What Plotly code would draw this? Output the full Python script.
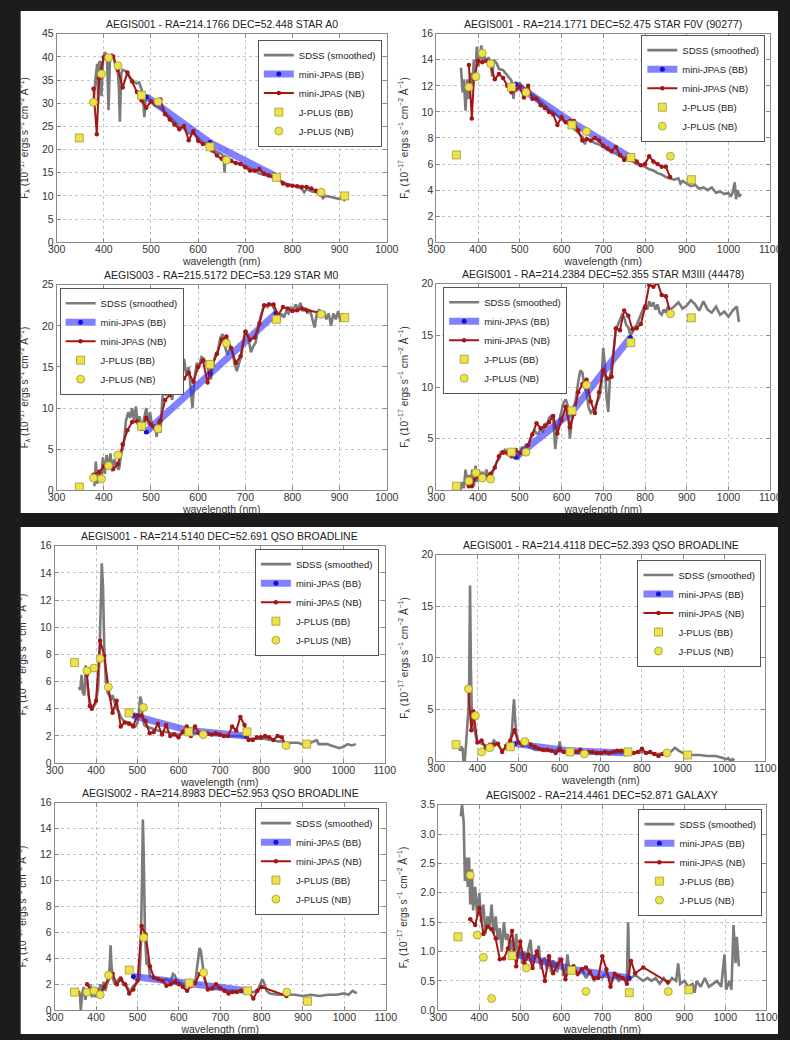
import plotly.graph_objects as go

# ---------------------------------------------------------------- data
TITLES = [
    "AEGIS001 - RA=214.1766 DEC=52.448 STAR A0",
    "AEGIS001 - RA=214.1771 DEC=52.475 STAR F0V (90277)",
    "AEGIS003 - RA=215.5172 DEC=53.129 STAR M0",
    "AEGIS001 - RA=214.2384 DEC=52.355 STAR M3III (44478)",
    "AEGIS001 - RA=214.5140 DEC=52.691 QSO BROADLINE",
    "AEGIS001 - RA=214.4118 DEC=52.393 QSO BROADLINE",
    "AEGIS002 - RA=214.8983 DEC=52.953 QSO BROADLINE",
    "AEGIS002 - RA=214.4461 DEC=52.871 GALAXY",
]
X_MAX = [1000, 1100, 1000, 1100, 1100, 1100, 1100, 1100]
Y_MAX = [45, 16, 25, 20, 16, 20, 16, 3.5]
Y_DTICK = [5, 2, 5, 5, 2, 5, 2, 0.5]

JPLUS_BB_WL = [348, 480, 625, 766, 911]
JPLUS_NB_WL = [378, 395, 410, 430, 515, 660, 861]
MINI_BB_WL = [490, 625, 765]

# ---- panel 1
P1_SDSS_WL = [378, 380, 383, 386, 388, 390, 393, 395, 398, 402, 405, 407, 410, 413, 417, 420, 425, 430, 432, 434,
              437, 440, 445, 450, 455, 460, 465, 470, 475, 480, 483, 486, 489, 495, 500, 510, 520, 530, 540, 550,
              560, 570, 580, 590, 600, 610, 620, 630, 640, 650, 654, 656, 658, 662, 670, 680, 690, 700, 710, 720,
              730, 740, 750, 760, 770, 780, 790, 800, 810, 820, 825, 830, 840, 850, 860, 865, 870, 880, 890, 900,
              905, 910, 915]
P1_SDSS_FLUX = [30.0, 33.0, 36.0, 38.5, 30.0, 38.8, 39.0, 31.5, 39.0, 41.0, 40.5, 39.0, 28.5, 40.0, 40.5, 40.3, 38.0, 36.5, 33.0, 26.0,
                36.5, 37.2, 37.0, 36.5, 35.5, 35.0, 34.5, 34.3, 34.5, 33.0, 31.0, 27.0, 31.5, 31.0, 30.5, 29.5, 29.0, 28.0, 27.0, 26.0,
                25.0, 24.5, 23.5, 23.5, 22.5, 21.5, 21.0, 20.0, 19.5, 19.0, 18.5, 15.0, 18.5, 18.3, 17.5, 17.0, 16.8, 16.5, 16.0, 15.5,
                14.8, 14.5, 14.3, 14.0, 13.5, 13.0, 12.5, 12.3, 12.0, 11.5, 10.8, 11.5, 11.0, 10.8, 10.3, 9.5, 10.0, 9.8, 9.5, 9.3,
                9.6, 9.1, 9.8]
P1_NB_WL = [378, 385, 390, 400, 410, 420, 430, 440, 450, 460, 470, 480, 490, 500, 510, 520, 530, 540, 550, 560,
            570, 580, 590, 600, 610, 620, 630, 640, 650, 660, 670, 680, 690, 700, 710, 720, 730, 740, 750, 760,
            770, 780, 790, 800, 810, 820, 830, 840, 850, 860]
P1_NB_FLUX = [33.1, 23.3, 35.4, 39.9, 39.5, 40.0, 37.2, 33.4, 36.6, 34.7, 32.4, 30.6, 29.0, 30.4, 29.7, 30.8, 27.6, 26.5, 25.4, 24.4,
              25.1, 22.0, 24.0, 21.9, 21.2, 21.2, 19.8, 18.7, 18.0, 17.3, 17.6, 17.1, 16.9, 16.2, 15.5, 15.4, 15.8, 14.8, 14.4, 14.1,
              13.7, 12.7, 12.3, 12.2, 12.1, 11.9, 11.9, 11.6, 11.1, 10.3]
P1_MBB_FLUX = [31.4, 21.5, 14.2]
P1_JBB_FLUX = [22.5, 31.7, 20.6, 14.0, 10.0]
P1_JNB_FLUX = [30.2, 36.3, 39.8, 38.1, 30.3, 17.7, 10.8]

# ---- panel 2
P2_SDSS_WL = [359, 363, 366, 370, 374, 378, 382, 386, 390, 394, 397, 401, 405, 408, 411, 415, 420, 425, 430, 434,
              438, 445, 450, 460, 470, 480, 485, 489, 495, 500, 510, 520, 530, 540, 550, 560, 570, 580, 590, 600,
              610, 620, 630, 640, 650, 656, 660, 670, 680, 690, 700, 710, 720, 730, 740, 750, 760, 770, 780, 790,
              800, 810, 820, 830, 840, 850, 860, 870, 880, 885, 890, 900, 910, 920, 930, 940, 950, 960, 970, 980,
              990, 1000, 1005, 1010, 1015, 1018, 1022, 1026, 1030]
P2_SDSS_FLUX = [13.4, 11.5, 12.5, 10.1, 12.5, 11.0, 13.0, 12.0, 14.0, 13.0, 15.0, 13.5, 14.5, 15.1, 13.8, 14.3, 13.8, 14.2, 13.8, 12.7,
                14.0, 13.7, 13.3, 13.2, 12.8, 12.4, 11.0, 12.3, 12.0, 12.2, 11.8, 11.6, 11.3, 11.1, 10.8, 10.5, 10.2, 10.0, 9.7, 9.4,
                9.2, 9.0, 8.7, 8.4, 8.1, 7.5, 8.0, 7.8, 7.6, 7.5, 7.3, 7.1, 6.9, 6.8, 6.6, 6.5, 6.3, 6.2, 6.0, 5.9,
                5.8, 5.6, 5.5, 5.3, 5.2, 5.0, 4.9, 4.8, 4.9, 4.5, 4.7, 4.5, 4.3, 4.4, 4.1, 4.2, 4.0, 4.2, 3.8, 3.9,
                3.7, 3.8, 3.5, 3.8, 4.6, 3.3, 4.0, 3.5, 3.7]
P2_NB_WL = [378, 385, 390, 400, 410, 420, 430, 440, 450, 460, 470, 480, 490, 500, 510, 520, 530, 540, 550, 560,
            570, 580, 590, 600, 610, 620, 630, 640, 650, 660, 670, 680, 690, 700, 710, 720, 730, 740, 750, 760,
            770, 780, 790, 800, 810, 820, 830, 840, 850, 860]
P2_NB_FLUX = [13.6, 9.5, 12.5, 13.9, 13.8, 13.9, 13.6, 12.5, 12.9, 12.6, 12.0, 11.5, 11.7, 11.9, 11.1, 12.0, 11.0, 11.0, 10.5, 10.3,
              10.0, 9.8, 9.0, 9.6, 9.2, 9.3, 9.3, 8.6, 7.8, 7.9, 7.8, 8.0, 7.8, 7.4, 7.2, 7.0, 7.3, 6.7, 6.3, 6.7,
              6.5, 6.2, 5.9, 6.0, 6.6, 6.2, 6.0, 5.8, 5.8, 5.0]
P2_MBB_FLUX = [12.1, 9.2, 6.5]
P2_JBB_FLUX = [6.7, 11.9, 9.0, 6.5, 4.8]
P2_JNB_FLUX = [11.9, 12.7, 14.5, 13.7, 11.5, 8.5, 6.6]

# ---- panel 3
P3_SDSS_WL = [380, 383, 386, 390, 394, 398, 402, 406, 410, 414, 418, 422, 427, 432, 437, 442, 447, 452, 456, 460,
              464, 468, 472, 476, 480, 485, 490, 494, 498, 503, 508, 512, 516, 520, 524, 528, 532, 536, 540, 545,
              550, 555, 560, 565, 570, 575, 580, 584, 588, 592, 597, 602, 607, 612, 617, 622, 627, 632, 637, 642,
              647, 652, 657, 662, 667, 672, 677, 682, 687, 692, 697, 702, 707, 712, 717, 722, 727, 732, 737, 742,
              747, 752, 757, 762, 767, 772, 777, 782, 787, 792, 797, 802, 807, 812, 817, 822, 827, 832, 837, 842,
              847, 852, 857, 862, 867, 872, 877, 882, 887, 892, 897, 902, 907, 912]
P3_SDSS_FLUX = [0.5, 3.5, 0.8, 2.5, 1.0, 4.0, 2.0, 4.3, 2.5, 4.5, 2.3, 3.8, 3.0, 2.5, 4.5, 5.5, 8.5, 9.5, 8.8, 10.0,
                8.5, 10.2, 8.0, 9.0, 7.3, 8.5, 10.0, 8.0, 9.5, 7.5, 8.0, 6.5, 8.5, 7.0, 11.0, 13.0, 11.5, 13.0, 12.0, 11.0,
                13.5, 12.5, 14.0, 13.0, 16.0, 14.0, 15.0, 12.5, 10.0, 13.5, 15.5, 15.0, 16.2, 16.0, 15.5, 14.5, 13.5, 15.5, 16.5, 17.0,
                18.5, 19.0, 17.5, 16.5, 17.2, 17.0, 15.5, 14.5, 15.5, 16.5, 18.5, 19.5, 18.5, 16.8, 17.5, 18.0, 19.5, 21.0, 22.0, 22.5,
                22.3, 22.7, 22.5, 22.0, 21.0, 20.8, 21.5, 21.0, 21.8, 21.5, 22.2, 22.0, 22.6, 22.0, 22.8, 21.8, 22.2, 21.5, 22.0, 21.0,
                19.8, 21.5, 22.0, 21.0, 21.8, 20.8, 21.5, 20.0, 21.5, 20.8, 21.8, 20.5, 21.5, 20.8]
P3_NB_WL = [378, 390, 400, 410, 420, 430, 440, 450, 460, 470, 480, 490, 500, 510, 520, 530, 540, 550, 560, 570,
            580, 590, 600, 610, 620, 630, 640, 650, 660, 670, 680, 690, 700, 710, 720, 730, 740, 750, 760, 770,
            780, 790, 800, 810, 820, 830, 860]
P3_NB_FLUX = [1.9, 2.2, 2.9, 3.0, 2.6, 3.2, 5.6, 7.3, 8.3, 8.4, 7.5, 8.8, 8.0, 7.5, 8.5, 11.0, 11.6, 12.0, 13.3, 13.6,
              14.3, 13.2, 15.0, 15.8, 13.1, 15.2, 16.6, 18.3, 18.7, 17.3, 15.5, 16.3, 19.3, 18.3, 18.6, 20.3, 22.5, 22.6, 22.6, 21.3,
              22.3, 22.1, 21.8, 21.9, 22.1, 21.9, 21.6]
P3_MBB_FLUX = [7.1, 14.2, 21.5]
P3_JBB_FLUX = [0.4, 7.8, 15.3, 20.8, 21.0]
P3_JNB_FLUX = [1.5, 1.4, 3.0, 4.3, 7.5, 17.9, 21.4]

# ---- panel 4
P4_SDSS_WL = [358, 362, 366, 370, 374, 378, 382, 386, 390, 394, 398, 402, 406, 410, 415, 420, 425, 430, 435, 440,
              445, 450, 455, 460, 465, 470, 475, 480, 485, 490, 495, 500, 505, 510, 515, 520, 525, 530, 535, 540,
              545, 550, 555, 560, 565, 570, 575, 580, 585, 590, 595, 600, 605, 610, 615, 620, 625, 630, 635, 640,
              645, 650, 655, 660, 665, 670, 675, 680, 685, 690, 695, 700, 704, 708, 712, 716, 720, 725, 730, 735,
              740, 745, 750, 755, 760, 765, 770, 775, 780, 785, 790, 795, 800, 805, 810, 815, 820, 825, 830, 835,
              840, 845, 850, 855, 860, 870, 880, 890, 900, 910, 920, 930, 940, 950, 960, 970, 980, 990, 1000, 1010,
              1020, 1025]
P4_SDSS_FLUX = [0.0, 0.8, 0.2, 2.0, 0.5, 1.5, 0.3, 2.0, 0.4, 2.4, 0.8, 2.0, 1.0, 1.8, 1.2, 2.0, 1.2, 0.9, 1.8, 2.2,
                2.8, 3.0, 3.8, 3.5, 4.0, 3.6, 3.8, 3.2, 4.0, 3.5, 3.0, 3.6, 4.2, 3.8, 4.5, 4.2, 5.0, 5.5, 5.8, 5.5,
                5.5, 6.0, 5.6, 6.5, 6.2, 7.0, 7.2, 7.0, 4.0, 6.0, 6.8, 7.5, 8.5, 8.8, 8.2, 5.0, 7.0, 8.0, 9.0, 10.5,
                11.6, 11.4, 10.0, 9.5, 8.0, 7.5, 7.8, 8.0, 8.5, 9.0, 10.0, 13.8, 12.0, 9.0, 7.6, 11.0, 12.0, 14.0, 15.5, 16.0,
                16.5, 17.0, 16.8, 16.0, 15.8, 15.0, 15.3, 15.8, 16.0, 16.5, 17.0, 17.5, 18.0, 17.5, 18.3, 17.8, 18.2, 17.5, 18.0, 17.2,
                17.0, 17.5, 17.2, 17.8, 17.5, 17.8, 18.2, 17.6, 17.9, 18.4, 18.0, 17.4, 18.3, 17.5, 17.2, 17.8, 17.0, 17.3, 16.8, 17.4,
                17.8, 16.3]
P4_NB_WL = [378, 385, 390, 400, 410, 420, 430, 440, 450, 460, 470, 480, 490, 500, 510, 520, 530, 540, 550, 560,
            570, 580, 590, 600, 610, 620, 630, 640, 650, 660, 670, 680, 690, 700, 710, 720, 730, 740, 750, 760,
            770, 780, 790, 800, 810, 820, 830, 840, 850, 860]
P4_NB_FLUX = [0.4, 0.4, 1.0, 1.3, 1.4, 1.3, 1.6, 2.2, 3.3, 3.7, 3.6, 3.3, 3.9, 3.6, 3.7, 4.4, 5.4, 6.5, 6.0, 6.2,
              6.6, 7.2, 5.5, 6.8, 8.1, 6.1, 7.4, 9.5, 10.3, 10.7, 8.6, 7.5, 9.5, 11.6, 10.8, 11.0, 15.7, 15.5, 17.4, 16.9,
              15.6, 15.7, 16.1, 17.7, 19.9, 19.7, 20.1, 18.9, 18.8, 17.3]
P4_MBB_FLUX = [3.2, 7.6, 14.8]
P4_JBB_FLUX = [0.4, 3.7, 7.7, 14.3, 16.7]
P4_JNB_FLUX = [0.9, 1.7, 1.2, 1.1, 3.7, 10.2, 17.1]

# ---- panel 5
P5_SDSS_WL = [358, 362, 365, 368, 372, 375, 378, 382, 386, 390, 395, 400, 405, 408, 411, 414, 417, 420, 424, 428,
              432, 436, 440, 445, 450, 455, 460, 465, 470, 475, 480, 485, 490, 495, 500, 504, 507, 510, 513, 517,
              522, 530, 540, 550, 560, 570, 580, 590, 600, 610, 620, 630, 640, 650, 660, 670, 680, 690, 700, 710,
              720, 730, 740, 750, 760, 770, 780, 790, 800, 810, 820, 830, 840, 850, 860, 870, 880, 890, 900, 910,
              920, 930, 935, 940, 950, 960, 970, 980, 990, 1000, 1010, 1020, 1030]
P5_SDSS_FLUX = [5.6, 5.4, 6.5, 5.2, 5.0, 7.2, 6.2, 5.0, 4.4, 4.0, 4.2, 4.5, 5.5, 7.5, 11.0, 14.7, 13.0, 8.5, 6.0, 5.2,
                5.0, 4.6, 5.0, 4.5, 4.0, 3.8, 3.4, 3.2, 3.0, 3.0, 3.0, 2.9, 2.8, 2.7, 2.9, 3.6, 4.9, 4.6, 3.3, 2.8,
                2.7, 2.6, 2.5, 2.4, 2.3, 2.3, 2.2, 2.2, 2.1, 2.2, 2.3, 2.2, 2.2, 2.2, 2.2, 2.1, 2.1, 2.1, 2.1, 2.0,
                2.0, 2.0, 2.0, 2.0, 1.9, 1.8, 1.8, 1.8, 1.8, 1.8, 1.7, 1.7, 1.6, 1.6, 1.5, 1.5, 1.5, 1.5, 1.4, 1.4,
                1.5, 1.6, 1.7, 1.4, 1.4, 1.4, 1.3, 1.2, 1.1, 1.2, 1.4, 1.3, 1.4]
P5_NB_WL = [378, 385, 390, 400, 410, 420, 430, 440, 450, 460, 470, 480, 490, 500, 510, 520, 530, 540, 550, 560,
            570, 580, 590, 600, 610, 620, 630, 640, 650, 660, 670, 680, 690, 700, 710, 720, 730, 740, 750, 760,
            770, 780, 790, 800, 810, 820, 830, 840, 850, 860]
P5_NB_FLUX = [6.5, 4.2, 4.0, 4.6, 9.0, 7.9, 5.6, 3.7, 4.6, 2.7, 3.0, 2.9, 2.7, 3.5, 3.5, 3.1, 2.2, 2.3, 2.9, 2.1,
              2.8, 2.0, 2.1, 1.9, 2.3, 2.7, 2.0, 2.7, 2.2, 2.0, 2.2, 2.1, 2.2, 2.1, 2.0, 2.0, 2.7, 2.4, 3.4, 2.8,
              1.7, 1.7, 1.9, 1.9, 2.0, 1.9, 1.7, 2.0, 1.9, 1.4]
P5_MBB_FLUX = [3.5, 2.4, 2.0]
P5_JBB_FLUX = [7.4, 3.7, 2.3, 2.3, 1.4]
P5_JNB_FLUX = [6.8, 7.0, 7.7, 5.6, 4.1, 2.1, 1.3]

# ---- panel 6
P6_SDSS_WL = [355, 358, 361, 364, 366, 369, 372, 375, 378, 380, 382, 384, 386, 389, 393, 397, 400, 405, 410, 415,
              420, 425, 430, 435, 440, 445, 450, 455, 460, 465, 470, 475, 480, 484, 487, 489, 491, 494, 498, 505,
              510, 520, 530, 540, 550, 560, 570, 580, 590, 597, 600, 603, 610, 620, 640, 660, 680, 700, 720, 740,
              760, 780, 800, 820, 840, 860, 870, 880, 885, 890, 900, 920, 940, 960, 980, 1000, 1005, 1010, 1015, 1020,
              1025]
P6_SDSS_FLUX = [1.4, 1.0, 1.4, 1.2, 0.0, 0.0, 1.5, 3.0, 5.0, 8.0, 17.0, 9.0, 5.0, 3.5, 3.0, 2.2, 1.8, 1.8, 1.7, 1.6,
                1.5, 1.5, 1.5, 1.6, 2.0, 1.8, 1.6, 1.3, 1.0, 1.2, 1.3, 1.5, 2.0, 3.0, 5.0, 6.0, 4.5, 2.8, 1.9, 1.7,
                1.5, 1.5, 1.3, 1.1, 1.1, 1.0, 1.0, 1.0, 1.0, 1.2, 1.9, 1.1, 0.9, 0.9, 0.8, 0.8, 0.8, 0.8, 0.8, 0.8,
                0.8, 0.8, 0.9, 0.8, 0.7, 0.8, 0.9, 1.3, 1.1, 1.0, 0.8, 0.6, 0.6, 0.5, 0.5, 0.3, 0.2, 0.3, 0.0, 0.2,
                0.1]
P6_NB_WL = [378, 385, 390, 400, 410, 420, 430, 440, 450, 460, 470, 480, 490, 500, 510, 520, 530, 540, 550, 560,
            570, 580, 590, 600, 610, 620, 630, 640, 650, 660, 670, 680, 690, 700, 710, 720, 730, 740, 750, 760,
            770, 780, 790, 800, 810, 820, 830, 840, 850]
P6_NB_FLUX = [6.9, 3.0, 4.8, 1.8, 2.0, 1.3, 1.6, 1.6, 1.7, 0.9, 1.5, 2.0, 3.0, 1.8, 1.6, 1.9, 1.6, 1.4, 1.2, 1.1,
              1.1, 1.0, 0.8, 1.1, 0.9, 1.0, 0.8, 0.9, 1.1, 0.8, 0.9, 0.9, 0.8, 0.8, 0.9, 0.8, 0.9, 1.0, 1.0, 0.9,
              0.8, 0.8, 0.9, 1.2, 0.8, 0.9, 0.7, 0.5, 0.7]
P6_MBB_FLUX = [1.7, 1.0, 0.8]
P6_JBB_FLUX = [1.6, 1.4, 0.9, 0.9, 0.6]
P6_JNB_FLUX = [7.0, 4.4, 0.9, 1.3, 1.9, 0.7, 0.8]

# ---- panel 7
P7_SDSS_WL = [358, 361, 363, 366, 370, 374, 378, 382, 386, 390, 394, 398, 402, 406, 410, 414, 418, 422, 426, 430,
              433, 435, 437, 440, 445, 450, 455, 460, 465, 470, 475, 480, 485, 490, 495, 500, 505, 508, 511, 513,
              515, 518, 522, 526, 530, 540, 550, 560, 570, 580, 586, 590, 595, 600, 610, 620, 630, 640, 645, 650,
              653, 657, 662, 670, 680, 690, 700, 720, 740, 760, 780, 790, 797, 802, 806, 812, 820, 840, 860, 880,
              900, 920, 940, 960, 980, 1000, 1010, 1020, 1025, 1030]
P7_SDSS_FLUX = [1.5, 1.2, 0.0, 1.2, 1.8, 0.8, 1.6, 1.2, 2.0, 1.0, 1.8, 1.0, 1.7, 1.2, 2.0, 1.3, 2.2, 1.5, 2.0, 2.3,
                3.5, 5.0, 3.5, 2.5, 2.0, 2.2, 2.4, 2.6, 2.0, 2.0, 1.8, 1.5, 1.6, 1.9, 2.0, 2.2, 2.5, 5.0, 10.0, 14.7,
                12.0, 6.0, 3.5, 4.0, 2.6, 2.5, 2.4, 2.2, 2.4, 2.2, 2.8, 2.7, 2.3, 2.2, 2.0, 1.9, 1.9, 2.3, 3.5, 4.8,
                4.6, 3.5, 2.4, 1.7, 1.6, 1.7, 1.7, 1.5, 1.5, 1.4, 1.4, 1.5, 2.0, 2.4, 2.1, 1.5, 1.3, 1.2, 1.2, 1.2,
                1.1, 1.2, 1.1, 1.2, 1.2, 1.3, 1.2, 1.5, 1.4, 1.3]
P7_NB_WL = [378, 390, 400, 410, 420, 430, 440, 450, 460, 470, 480, 490, 500, 510, 520, 530, 540, 550, 560, 570,
            580, 590, 600, 610, 620, 630, 640, 650, 660, 670, 680, 690, 700, 710, 720, 730, 740, 750, 760, 770,
            780, 790, 800, 860]
P7_NB_FLUX = [2.0, 1.4, 1.6, 1.3, 1.8, 2.5, 2.8, 2.0, 2.4, 2.0, 1.3, 1.6, 2.3, 6.5, 5.8, 3.4, 2.5, 2.4, 2.3, 1.9,
              2.0, 2.2, 2.0, 1.8, 1.5, 1.9, 2.1, 2.8, 2.8, 1.6, 1.7, 2.0, 1.7, 1.5, 1.3, 1.4, 1.4, 1.5, 1.4, 1.4,
              0.9, 1.5, 1.8, 1.1]
P7_MBB_FLUX = [2.6, 2.0, 1.5]
P7_JBB_FLUX = [1.4, 3.1, 2.1, 1.5, 0.7]
P7_JNB_FLUX = [1.4, 1.5, 1.2, 2.7, 5.6, 2.9, 1.4]

# ---- panel 8
P8_SDSS_WL = [355, 358, 362, 365, 368, 372, 375, 378, 382, 385, 390, 395, 400, 405, 410, 415, 420, 425, 430, 435,
              440, 445, 450, 455, 460, 465, 470, 475, 480, 485, 490, 495, 500, 505, 510, 515, 520, 525, 530, 535,
              540, 545, 550, 555, 560, 565, 570, 575, 580, 585, 590, 595, 600, 605, 610, 615, 620, 625, 630, 640,
              650, 660, 670, 680, 690, 700, 710, 720, 730, 740, 750, 760, 763, 766, 770, 780, 790, 800, 810, 820,
              830, 840, 850, 860, 870, 880, 885, 890, 900, 910, 920, 925, 930, 940, 950, 960, 970, 980, 990, 998,
              1002, 1010, 1015, 1020, 1025, 1028, 1033]
P8_SDSS_FLUX = [3.3, 3.5, 3.2, 2.2, 2.6, 2.1, 2.6, 1.8, 2.4, 1.7, 2.1, 1.6, 2.0, 1.5, 1.8, 1.3, 1.6, 1.4, 1.8, 1.3,
                1.6, 1.2, 1.4, 1.0, 1.5, 1.2, 1.3, 1.0, 1.2, 0.9, 1.3, 0.9, 1.1, 0.8, 1.0, 0.85, 1.05, 1.2, 0.8, 0.95,
                0.9, 1.1, 0.7, 0.85, 0.9, 0.7, 0.95, 0.65, 0.85, 0.7, 0.65, 0.9, 0.85, 0.6, 0.6, 0.95, 0.65, 0.75, 0.7, 0.6,
                0.7, 0.55, 0.65, 0.5, 0.6, 0.55, 0.65, 0.5, 0.6, 0.5, 0.55, 0.5, 1.5, 0.5, 0.55, 0.6, 0.55, 0.5, 0.55, 0.5,
                0.55, 0.45, 0.55, 0.45, 0.55, 0.5, 0.8, 0.45, 0.5, 0.4, 0.45, 0.3, 0.5, 0.4, 0.55, 0.4, 0.45, 0.5, 0.4, 0.95,
                0.35, 0.5, 0.35, 1.45, 0.8, 1.25, 0.75]
P8_NB_WL = [378, 390, 400, 410, 420, 430, 440, 450, 460, 470, 480, 490, 500, 510, 520, 530, 540, 550, 560, 570,
            580, 590, 600, 610, 620, 630, 640, 650, 660, 670, 680, 690, 700, 710, 720, 730, 740, 750, 760, 770,
            780, 800, 860]
P8_NB_FLUX = [1.55, 1.45, 1.74, 1.30, 1.42, 1.38, 1.22, 0.87, 0.88, 1.05, 1.35, 0.75, 1.17, 0.80, 0.95, 0.72, 1.00, 0.83, 0.50, 0.92,
              0.63, 0.78, 0.86, 0.53, 0.72, 0.75, 0.62, 0.70, 0.73, 0.65, 0.55, 0.55, 0.92, 0.70, 0.40, 0.62, 0.58, 0.55, 0.45, 0.84,
              0.63, 0.73, 0.48]
P8_MBB_FLUX = [0.95, 0.70, 0.55]
P8_JBB_FLUX = [1.25, 0.93, 0.68, 0.30, 0.35]
P8_JNB_FLUX = [2.30, 1.28, 0.90, 0.20, 0.72, 0.32, 0.32]

SDSS_WL = [P1_SDSS_WL, P2_SDSS_WL, P3_SDSS_WL, P4_SDSS_WL, P5_SDSS_WL, P6_SDSS_WL, P7_SDSS_WL, P8_SDSS_WL]
SDSS_FLUX = [P1_SDSS_FLUX, P2_SDSS_FLUX, P3_SDSS_FLUX, P4_SDSS_FLUX, P5_SDSS_FLUX, P6_SDSS_FLUX, P7_SDSS_FLUX, P8_SDSS_FLUX]
NB_WL = [P1_NB_WL, P2_NB_WL, P3_NB_WL, P4_NB_WL, P5_NB_WL, P6_NB_WL, P7_NB_WL, P8_NB_WL]
NB_FLUX = [P1_NB_FLUX, P2_NB_FLUX, P3_NB_FLUX, P4_NB_FLUX, P5_NB_FLUX, P6_NB_FLUX, P7_NB_FLUX, P8_NB_FLUX]
MBB_FLUX = [P1_MBB_FLUX, P2_MBB_FLUX, P3_MBB_FLUX, P4_MBB_FLUX, P5_MBB_FLUX, P6_MBB_FLUX, P7_MBB_FLUX, P8_MBB_FLUX]
JBB_FLUX = [P1_JBB_FLUX, P2_JBB_FLUX, P3_JBB_FLUX, P4_JBB_FLUX, P5_JBB_FLUX, P6_JBB_FLUX, P7_JBB_FLUX, P8_JBB_FLUX]
JNB_FLUX = [P1_JNB_FLUX, P2_JNB_FLUX, P3_JNB_FLUX, P4_JNB_FLUX, P5_JNB_FLUX, P6_JNB_FLUX, P7_JNB_FLUX, P8_JNB_FLUX]

for i in range(8):
    assert len(SDSS_WL[i]) == len(SDSS_FLUX[i]), ("sdss", i + 1, len(SDSS_WL[i]), len(SDSS_FLUX[i]))
    assert len(NB_WL[i]) == len(NB_FLUX[i]), ("nb", i + 1, len(NB_WL[i]), len(NB_FLUX[i]))

# ---------------------------------------------------------------- layout (pixels)
W, H = 790, 1040
BOXES = [(49, 28, 388, 239), (439, 28, 782, 239),
         (49, 282, 388, 490), (439, 281, 782, 490),
         (47, 546, 386, 766), (439, 555, 777, 764),
         (47, 806, 387, 1016), (441, 808, 778, 1016)]
LEGEND_POS = [(383, 34, "right"), (777, 29, "right"),
              (52, 285, "left"), (446, 284, "left"),
              (380, 549, "right"), (773, 560, "right"),
              (380, 811, "right"), (774, 812, "right")]

FONT = "Liberation Sans, Arial, sans-serif"
YTITLE = ("F<sub>λ</sub> (10<sup>−17</sup> ergs s<sup>−1</sup> cm<sup>−2</sup> Å<sup>−1</sup>)")

GRAY = "#7b7b7b"
BLUE_LINE = "rgba(45,45,255,0.6)"
BLUE_DOT = "#1212e0"
RED = "#a41616"
YELLOW = "#ece24e"
YELLOW_EDGE = "#a59a2a"
DARK_BG = "#1c1c1c"


def fx(px):
    return px / W


def fy(py):
    return 1 - py / H


fig = go.Figure()
layout = dict(
    width=W, height=H,
    margin=dict(l=0, r=0, t=0, b=0),
    paper_bgcolor=DARK_BG,
    plot_bgcolor="white",
    font=dict(family=FONT, size=10, color="#222"),
    shapes=[
        dict(type="rect", xref="paper", yref="paper", x0=fx(12), x1=fx(790), y0=fy(513), y1=fy(5),
             fillcolor="white", line=dict(width=0), layer="below"),
        dict(type="rect", xref="paper", yref="paper", x0=fx(12), x1=fx(790), y0=fy(1040), y1=fy(527),
             fillcolor="white", line=dict(width=0), layer="below"),
    ],
    annotations=[],
)

for i in range(8):
    n = i + 1
    sx = "" if n == 1 else str(n)
    xa, ya, lg = "x" + sx, "y" + sx, "legend" + sx
    common = dict(xaxis=xa, yaxis=ya, legend=lg)

    fig.add_trace(go.Scatter(x=SDSS_WL[i], y=SDSS_FLUX[i], mode="lines", name="SDSS (smoothed)",
                             line=dict(color=GRAY, width=2.6), **common))
    fig.add_trace(go.Scatter(x=MINI_BB_WL, y=MBB_FLUX[i], mode="lines+markers", name="mini-JPAS (BB)",
                             line=dict(color=BLUE_LINE, width=7),
                             marker=dict(color=BLUE_DOT, size=5), **common))
    fig.add_trace(go.Scatter(x=NB_WL[i], y=NB_FLUX[i], mode="lines+markers", name="mini-JPAS (NB)",
                             line=dict(color=RED, width=2),
                             marker=dict(color=RED, size=4.5), **common))
    fig.add_trace(go.Scatter(x=JPLUS_BB_WL, y=JBB_FLUX[i], mode="markers", name="J-PLUS (BB)",
                             marker=dict(symbol="square", color=YELLOW, size=8,
                                         line=dict(color=YELLOW_EDGE, width=0.8)), **common))
    fig.add_trace(go.Scatter(x=JPLUS_NB_WL, y=JNB_FLUX[i], mode="markers", name="J-PLUS (NB)",
                             marker=dict(symbol="circle", color=YELLOW, size=8,
                                         line=dict(color=YELLOW_EDGE, width=0.8)), **common))

    l, t, r, b = BOXES[i]
    axis_common = dict(
        showline=True, linecolor="#8a8a8a", linewidth=1, mirror="ticks",
        ticks="inside", ticklen=4, tickcolor="#8a8a8a",
        showgrid=True, gridcolor="#c4c4c4", griddash="dot", gridwidth=1,
        zeroline=False, tickfont=dict(family=FONT, size=10.5, color="#333"),
    )
    layout["xaxis" + sx] = dict(
        axis_common, domain=[fx(l), fx(r)], anchor=ya, range=[300, X_MAX[i]],
        tick0=300, dtick=100, ticklabelstandoff=-3,
        title=dict(text="wavelength (nm)", standoff=2, font=dict(family=FONT, size=10.5, color="#333")),
    )
    layout["yaxis" + sx] = dict(
        axis_common, domain=[fy(b), fy(t)], anchor=xa, range=[0, Y_MAX[i]],
        tick0=0, dtick=Y_DTICK[i], tickformat=".1f" if Y_MAX[i] < 5 else "d",
        title=dict(text=YTITLE, standoff=11, font=dict(family=FONT, size=10, color="#333")),
    )
    lx, ly, anchor = LEGEND_POS[i]
    layout[lg] = dict(
        x=fx(lx), y=fy(ly), xanchor=anchor, yanchor="top",
        xref="paper", yref="paper",
        bgcolor="white", bordercolor="#555", borderwidth=1,
        font=dict(family=FONT, size=9.5, color="#222"),
        tracegroupgap=0, itemwidth=30,
    )
    layout["annotations"].append(dict(
        text=TITLES[i], xref="paper", yref="paper",
        x=fx((l + r) / 2), y=fy(t - 2), xanchor="center", yanchor="bottom",
        showarrow=False, font=dict(family=FONT, size=10.5, color="#222"),
    ))

fig.update_layout(**layout)
fig.write_html(
    "out.html",
    config={"displayModeBar": False},
    post_script="document.body.style.margin='0';document.body.style.background='" + DARK_BG + "';",
)
